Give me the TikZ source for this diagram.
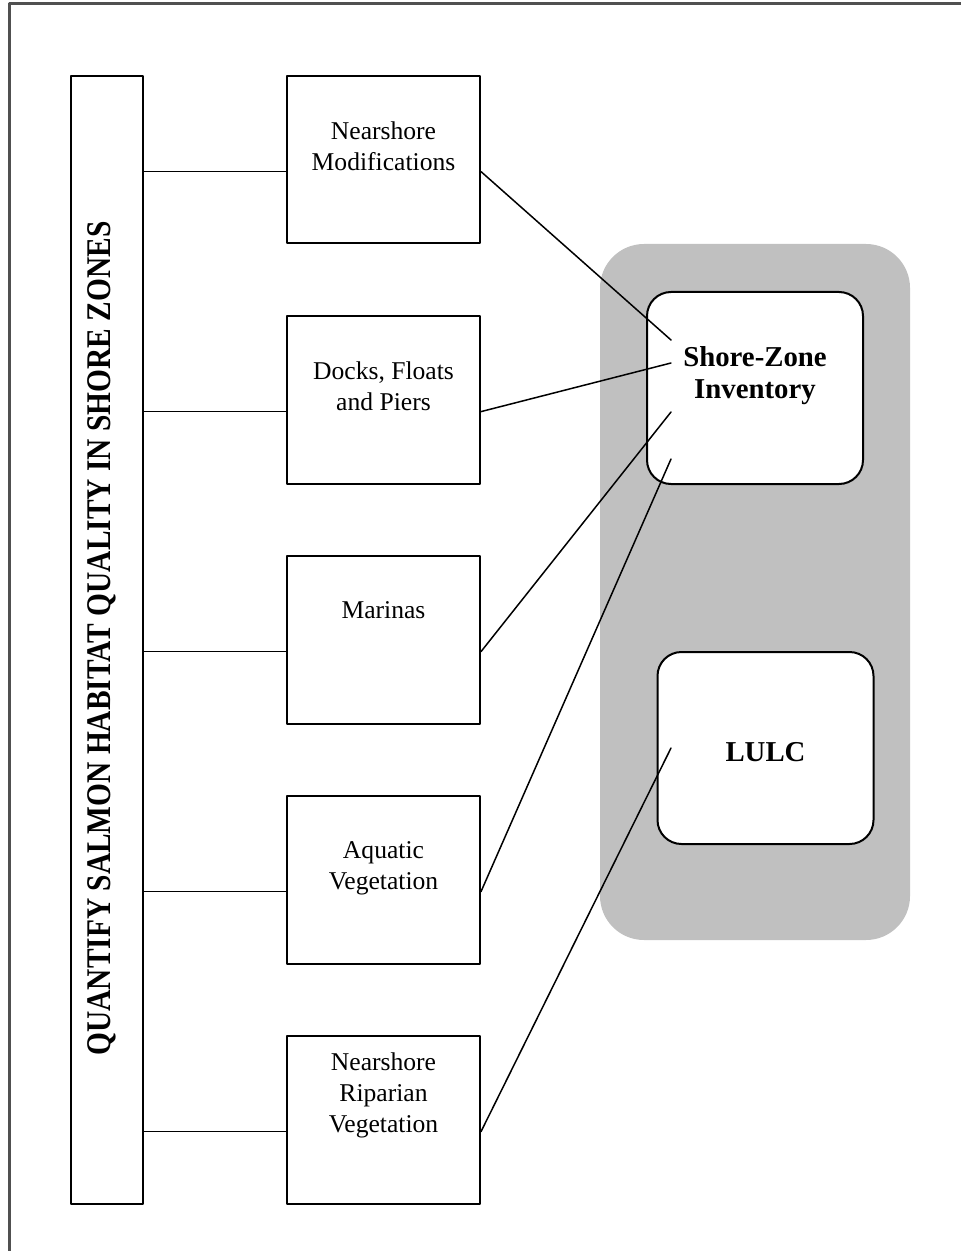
\documentclass[tikz,border=0pt]{standalone}
\usepackage{fontspec}
\setmainfont{Liberation Serif}
\newfontfamily\titlefont[FakeStretch=0.85]{Liberation Serif}
\usetikzlibrary{positioning}
\usetikzlibrary{calc}
\definecolor{panelgray}{RGB}{192,192,192}
\definecolor{framegray}{RGB}{80,80,80}

\begin{document}
\begin{tikzpicture}[x=0.5pt,y=-0.5pt,line cap=round,line join=round,
  bar/.style={draw,line width=1pt,minimum width=36pt,minimum height=564pt,inner sep=0pt},
  stepbox/.style={draw,line width=1pt,minimum width=96.5pt,minimum height=83.75pt,inner sep=0pt},
  zone/.style={fill=panelgray,rounded corners=22pt,minimum width=155pt,minimum height=348pt,inner sep=0pt},
  srcbox/.style={draw,fill=white,line width=1pt,rounded corners=12pt,minimum width=108pt,minimum height=96pt,inner sep=0pt},
  lbl/.style={align=center,inner sep=0pt,anchor=north,font=\fontsize{12.8pt}{15.5pt}\selectfont},
  srclbl/.style={align=center,inner sep=0pt,anchor=north,font=\bfseries\fontsize{14.4pt}{16pt}\selectfont},
  link/.style={line width=0.75pt}]
\useasboundingbox (0,0) rectangle (961,1251);
\draw[framegray,line width=1.5pt] (9,1251) -- (9,4) -- (961,4);
\node[zone] (panel) at (755,592) {};
\node[bar] (bar) at (107,640) {};
\node[rotate=90,anchor=base,inner sep=0pt,font=\titlefont\bfseries\fontsize{17.3pt}{20pt}\selectfont] (title) at (110,638.5) {QUANTIFY SALMON HABITAT QUALITY IN SHORE ZONES};
\node[stepbox] (nm) at (383.5,159.75) {};
\node[stepbox] (dock) at (383.5,399.75) {};
\node[stepbox] (mar) at (383.5,639.75) {};
\node[stepbox] (aqv) at (383.5,879.75) {};
\node[stepbox] (rip) at (383.5,1119.75) {};
\node[lbl,below=23pt of nm.north] (nmtext) {Nearshore\\Modifications};
\node[lbl,below=23pt of dock.north] (docktext) {Docks, Floats\\and Piers};
\node[lbl,below=23pt of mar.north] (martext) {Marinas};
\node[lbl,below=23pt of aqv.north] (aqvtext) {Aquatic\\Vegetation};
\node[lbl,below=8.5pt of rip.north] (riptext) {Nearshore\\Riparian\\Vegetation};
\node[srcbox] (szi) at (755,388) {};
\node[srcbox] (lulc) at (765.5,748) {};
\node[srclbl,below=27.5pt of szi.north] (szitext) {Shore-Zone\\Inventory};
\node[srclbl,below=45.5pt of lulc.north] (lulctext) {LULC};
\foreach \b in {nm,dock,mar,aqv,rip}{
  \coordinate (\b W) at ($(\b.north west)!0.57!(\b.south west)$);
  \coordinate (\b E) at ($(\b.north east)!0.57!(\b.south east)$);
  \draw[link] (bar.east |- \b W) -- (\b W);
}
\coordinate (sziA) at (671,340);
\coordinate (sziB) at (671,363);
\coordinate (sziC) at (671,412);
\coordinate (sziD) at (671,459);
\coordinate (lulcA) at (671,748);
\draw[link] (nmE) -- (sziA);
\draw[link] (dockE) -- (sziB);
\draw[link] (marE) -- (sziC);
\draw[link] (aqvE) -- (sziD);
\draw[link] (ripE) -- (lulcA);
\end{tikzpicture}
\end{document}
